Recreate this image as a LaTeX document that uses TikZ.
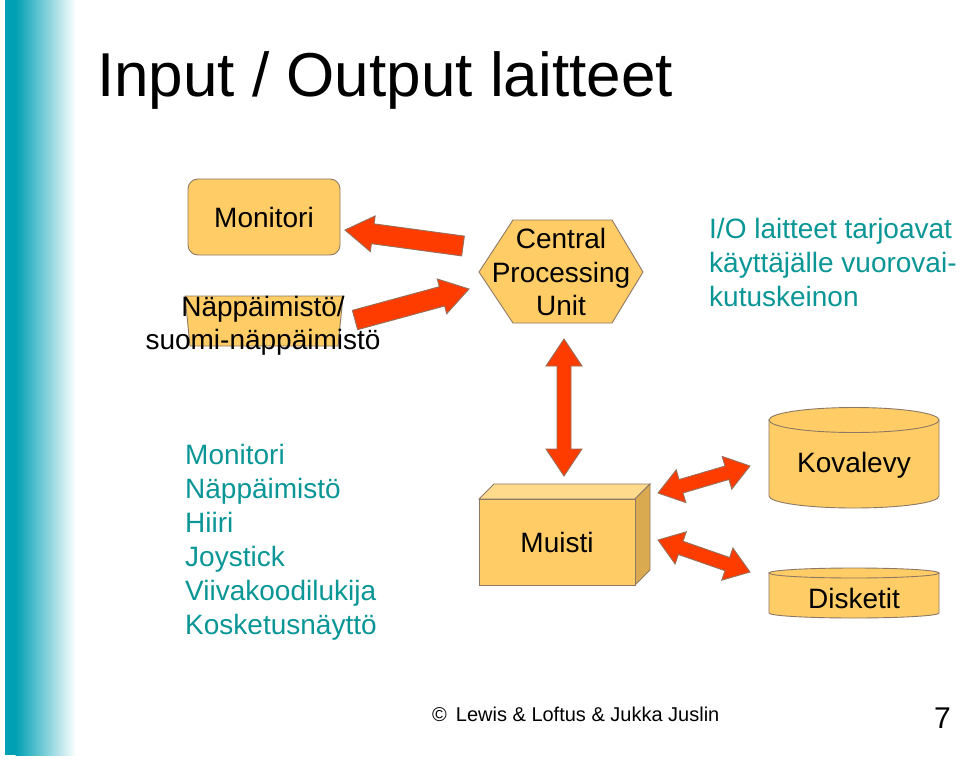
\documentclass[tikz,border=0pt]{standalone}
\usepackage{fontspec}
\setmainfont{Liberation Sans}
\usetikzlibrary{calc}
\definecolor{barteal}{RGB}{0,160,180}
\definecolor{txteal}{RGB}{10,150,150}
\definecolor{boxfill}{RGB}{255,204,102}
\definecolor{boxtop}{RGB}{255,218,140}
\definecolor{boxside}{RGB}{218,170,80}
\definecolor{boxline}{RGB}{140,120,100}
\definecolor{arrfill}{RGB}{255,60,0}
\definecolor{arrline}{RGB}{150,110,90}
\newcommand{\fsz}[2]{\fontsize{#1}{#2}\selectfont}
% single block arrow: from, to, half shaft, half head, head length
\newcommand{\blockarrow}[5]{%
  \draw[blockarr] let \p1=($(#2)-(#1)$), \n1={atan2(\y1,\x1)}, \n2={veclen(\x1,\y1)} in
    [shift={(#1)}, rotate=\n1]
    (0pt,{-#3*1pt}) -- ({(\n2-#5)*1pt},{-#3*1pt}) -- ({(\n2-#5)*1pt},{-#4*1pt})
    -- ({\n2*1pt},0pt) -- ({(\n2-#5)*1pt},{#4*1pt}) -- ({(\n2-#5)*1pt},{#3*1pt})
    -- (0pt,{#3*1pt}) -- cycle;}
% double block arrow
\newcommand{\dblockarrow}[5]{%
  \draw[blockarr] let \p1=($(#2)-(#1)$), \n1={atan2(\y1,\x1)}, \n2={veclen(\x1,\y1)} in
    [shift={(#1)}, rotate=\n1]
    (0pt,0pt) -- ({#5*1pt},{#4*1pt}) -- ({#5*1pt},{#3*1pt}) -- ({(\n2-#5)*1pt},{#3*1pt})
    -- ({(\n2-#5)*1pt},{#4*1pt}) -- ({\n2*1pt},0pt) -- ({(\n2-#5)*1pt},{-#4*1pt})
    -- ({(\n2-#5)*1pt},{-#3*1pt}) -- ({#5*1pt},{-#3*1pt}) -- ({#5*1pt},{-#4*1pt}) -- cycle;}
\tikzset{
  blockarr/.style={fill=arrfill, draw=arrline, line width=0.9pt, line join=miter},
  boxshape/.style={fill=boxfill, draw=boxline, line width=0.9pt},
  lbl/.style={font=\fsz{28}{33.5}, text=black, inner sep=0pt},
  teallbl/.style={font=\fsz{28}{34}, text=txteal, inner sep=0pt, align=left},
}
\begin{document}
\begin{tikzpicture}[x=1pt, y=-1pt]
\useasboundingbox (0,0) rectangle (960,765);
\fill[white] (0,0) rectangle (960,765);
% left gradient bar
\fill[barteal] (5,0) rectangle (16,755);
\shade[left color=barteal, right color=white] (15.5,0) rectangle (76,755);

% title
\node[anchor=base west, font=\fsz{62}{74}, inner sep=0pt] (title) at (97,97) {Input / Output laitteet};

% Monitori box
\node[boxshape, rounded corners=10pt, minimum width=152pt, minimum height=76pt, lbl] (mon) at (264,217) {Monitori};

% keyboard trapezoid + label
\filldraw[boxshape] (185,296) -- (343,296) -- (338,346) -- (190,346) -- cycle;
\node[lbl, align=center] (kbd) at (263,326) {Näppäimistö/\\suomi-näppäimistö};

% CPU hexagon
\filldraw[boxshape] (479,272) -- (513,220) -- (612,220) -- (643,272) -- (612,323) -- (513,323) -- cycle;
\node[lbl, align=center] (cpu) at (561,272) {Central\\Processing\\Unit};

% right text
\node[teallbl, anchor=west] (iotext) at (709,262) {I/O laitteet tarjoavat\\käyttäjälle vuorovai-\\kutuskeinon};

% teal list
\node[teallbl, anchor=west] (list) at (185,542) {Monitori\\Näppäimistö\\Hiiri\\Joystick\\Viivakoodilukija\\Kosketusnäyttö};

% Muisti 3D box
\filldraw[fill=boxtop, draw=boxline, line width=0.9pt] (479,499) -- (494,484) -- (650,484) -- (635,499) -- cycle;
\filldraw[fill=boxside, draw=boxline, line width=0.9pt] (635,499) -- (650,484) -- (650,570) -- (635,585) -- cycle;
\node[boxshape, minimum width=156pt, minimum height=86pt, lbl] (mem) at (557,542) {Muisti};

% Kovalevy cylinder
\filldraw[boxshape] (769,420) -- (769,496) arc[start angle=180, end angle=360, x radius=85pt, y radius=12pt] -- (939,420) -- cycle;
\filldraw[boxshape] (854,420) ellipse[x radius=85pt, y radius=12.5pt];
\node[lbl] (hdd) at (854,465) {Kovalevy};

% Disketit cylinder
\filldraw[boxshape] (769,573) -- (769,613) arc[start angle=180, end angle=360, x radius=85pt, y radius=5pt] -- (939,573) -- cycle;
\filldraw[boxshape] (854,573) ellipse[x radius=85pt, y radius=5pt];
\node[lbl] (fdd) at (854,598) {Disketit};

% connector end points
\coordinate (a1s) at (463,246);
\coordinate (a1e) at (345,230);
\coordinate (a2s) at (355,320);
\coordinate (a2e) at (469,289);
\coordinate (v1) at (564,339);
\coordinate (v2) at (564,476);
\coordinate (r1a) at (658,493);
\coordinate (r1b) at (750,466);
\coordinate (r2a) at (658,540);
\coordinate (r2b) at (750,572);

\blockarrow{a1s}{a1e}{10}{18}{28}
\blockarrow{a2s}{a2e}{10}{18}{28}
\dblockarrow{v1}{v2}{7}{18}{27}
\dblockarrow{r1a}{r1b}{7}{17}{24}
\dblockarrow{r2a}{r2b}{7}{17}{24}

% footer
\node[anchor=base west, font=\fsz{20}{24}, inner sep=0pt] (foot) at (432,721) {©\hspace{9pt}Lewis \& Loftus \& Jukka Juslin};
\node[anchor=base east, font=\fsz{30}{36}, inner sep=0pt] (pg) at (951,728) {7};
\end{tikzpicture}
\end{document}
